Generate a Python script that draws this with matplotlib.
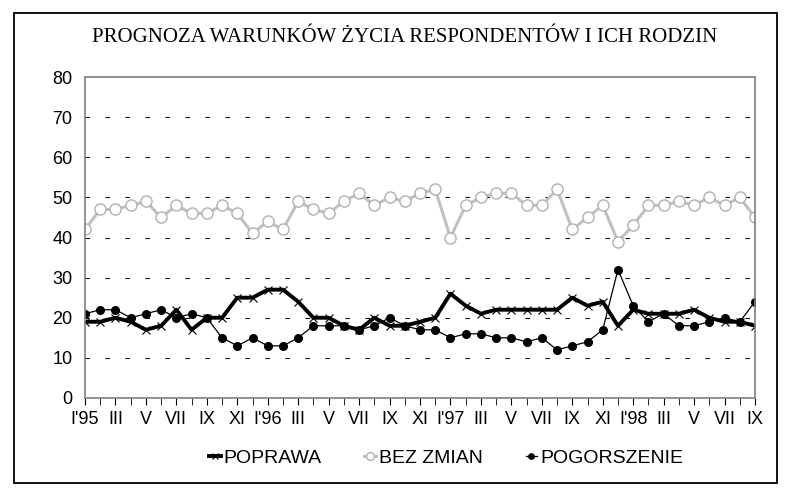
import matplotlib
matplotlib.use("Agg")
import matplotlib.pyplot as plt
import numpy as np
from matplotlib.patches import Rectangle

# monthly survey results, I'95 .. IX'98
poprawa = [19, 19, 20, 19, 17, 18, 22, 17, 20, 20, 25, 25, 27, 27, 24,
           20, 20, 18, 17, 20, 18, 18, 19, 20, 26, 23, 21, 22, 22, 22,
           22, 22, 25, 23, 24, 18, 22, 21, 21, 21, 22, 20, 19, 19, 18]
bez_zmian = [42, 47, 47, 48, 49, 45, 48, 46, 46, 48, 46, 41, 44, 42, 49,
             47, 46, 49, 51, 48, 50, 49, 51, 52, 40, 48, 50, 51, 51, 48,
             48, 52, 42, 45, 48, 39, 43, 48, 48, 49, 48, 50, 48, 50, 45]
pogorszenie = [21, 22, 22, 20, 21, 22, 20, 21, 20, 15, 13, 15, 13, 13, 15,
               18, 18, 18, 17, 18, 20, 18, 17, 17, 15, 16, 16, 15, 15, 14,
               15, 12, 13, 14, 17, 32, 23, 19, 21, 18, 18, 19, 20, 19, 24]
tick_labels = ["I'95", "III", "V", "VII", "IX", "XI",
               "I'96", "III", "V", "VII", "IX", "XI",
               "I'97", "III", "V", "VII", "IX", "XI",
               "I'98", "III", "V", "VII", "IX"]

plt.rcParams['font.family'] = ['Liberation Sans', 'DejaVu Sans']

W, H = 791, 493
fig = plt.figure(figsize=(W / 100, H / 100), dpi=100)

# outer chart frame
fig.patches.append(Rectangle((14 / W, 1 - 483 / H), (777 - 14) / W, (483 - 13) / H,
                             transform=fig.transFigure, fill=False,
                             edgecolor='black', linewidth=1.3))

ax = fig.add_axes([85 / W, 1 - 398 / H, (755 - 85) / W, (398 - 77) / H])
x = np.arange(len(poprawa))

ax.plot(x, poprawa, color='black', linewidth=2.8, marker='x', markersize=6,
        markeredgewidth=0.8, label='POPRAWA')
ax.plot(x, bez_zmian, color='#c0c0c0', linewidth=2.2, marker='o', markersize=8,
        markerfacecolor='white', markeredgecolor='#b0b0b0', markeredgewidth=1,
        label='BEZ ZMIAN')
ax.plot(x, pogorszenie, color='black', linewidth=0.9, marker='o', markersize=5.5,
        label='POGORSZENIE')

ax.set_xlim(0, len(poprawa) - 1)
ax.set_ylim(0, 80)
ax.set_yticks(range(0, 81, 10))
ax.set_xticks(x, minor=True)
ax.set_xticks(x[::2])
ax.set_xticklabels(tick_labels)
ax.tick_params(axis='x', which='both', direction='out', length=5, color='black',
               labelsize=13, pad=4)
ax.tick_params(axis='y', length=0, labelsize=13, pad=9)

for v in range(10, 80, 10):
    ax.axhline(v, color='black', linewidth=0.8, linestyle=(0, (4, 14)), zorder=0)

for s in ax.spines.values():
    s.set_color('#808080')
    s.set_linewidth(1.2)

fig.text(0.512, 1 - 38 / H, 'PROGNOZA WARUNKÓW ŻYCIA RESPONDENTÓW I ICH RODZIN',
         ha='center', va='center', fontsize=15, family='Liberation Serif')

fig.legend(loc='center', bbox_to_anchor=(446 / W, 1 - 458 / H), ncol=3,
           frameon=False, fontsize=14, handlelength=0.6, handletextpad=0.15,
           columnspacing=2.2, borderpad=0, markerscale=0.7)

fig.savefig('out.png', dpi=100)
